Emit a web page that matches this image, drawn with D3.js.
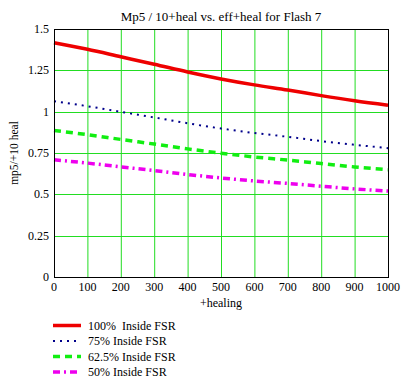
<!DOCTYPE html>
<html>
<head>
<meta charset="utf-8">
<script src="https://cdn.jsdelivr.net/npm/d3@7"></script>
<style>
  body { margin: 0; background: #fff; }
  text { font-family: "Liberation Serif", "Times New Roman", serif; fill: #000; }
</style>
</head>
<body>
<div id="canvas"></div>
<script>
"use strict"

/* Data */
let healing = [0, 100, 200, 300, 400, 500, 600, 700, 800, 900, 1000];
let fsr100 = [1.417, 1.377, 1.332, 1.287, 1.240, 1.198, 1.162, 1.131, 1.097, 1.066, 1.039];
let fsr75 = [1.063, 1.033, 0.999, 0.965, 0.930, 0.898, 0.871, 0.848, 0.822, 0.800, 0.779];
let fsr625 = [0.886, 0.861, 0.832, 0.804, 0.775, 0.749, 0.726, 0.707, 0.686, 0.666, 0.649];
let fsr50 = [0.709, 0.689, 0.666, 0.644, 0.620, 0.599, 0.581, 0.566, 0.549, 0.533, 0.520];
let seriesNames = ["100%  Inside FSR", "75% Inside FSR", "62.5% Inside FSR", "50% Inside FSR"];
let xTicks = [0, 100, 200, 300, 400, 500, 600, 700, 800, 900, 1000];
let yTicks = [0, 0.25, 0.5, 0.75, 1, 1.25, 1.5];

/* Drawing dimensions */
let svgWidth = 409;
let svgHeight = 385;
let plotLeft = 54, plotRight = 388, plotTop = 29, plotBottom = 277;

let svg = d3.select("#canvas")
    .append("svg")
    .attr("width", svgWidth)
    .attr("height", svgHeight);

svg.append("rect")
    .attr("width", svgWidth)
    .attr("height", svgHeight)
    .attr("fill", "white");

let xScale = d3.scaleLinear()
    .domain([0, 1000])
    .range([plotLeft, plotRight]);

let yScale = d3.scaleLinear()
    .domain([0, 1.5])
    .range([plotBottom, plotTop]);

/* Grid lines */
svg.append("g")
    .selectAll("line")
    .data(xTicks)
    .join("line")
    .attr("x1", d => xScale(d) + 0.5)
    .attr("x2", d => xScale(d) + 0.5)
    .attr("y1", plotTop)
    .attr("y2", plotBottom)
    .attr("stroke", "#22dd22")
    .attr("stroke-width", 1);

svg.append("g")
    .selectAll("line")
    .data(yTicks)
    .join("line")
    .attr("x1", plotLeft)
    .attr("x2", plotRight)
    .attr("y1", d => Math.round(yScale(d)) + 0.5)
    .attr("y2", d => Math.round(yScale(d)) + 0.5)
    .attr("stroke", "#22dd22")
    .attr("stroke-width", 1);

/* Series lines */
let seriesData = [fsr100, fsr75, fsr625, fsr50];
let seriesStyle = [
    { color: "#ee0000", width: 3.5, dash: null },
    { color: "#00008b", width: 2, dash: "2 5" },
    { color: "#11ee11", width: 3.5, dash: "7 5" },
    { color: "#ee00ee", width: 3.5, dash: "7 4 2 4" }
];

let line = d3.line()
    .x((d, i) => xScale(healing[i]))
    .y(d => yScale(d))
    .curve(d3.curveMonotoneX);

seriesData.forEach(function (values, k) {
    svg.append("path")
        .datum(values)
        .attr("d", line)
        .attr("fill", "none")
        .attr("stroke", seriesStyle[k].color)
        .attr("stroke-width", seriesStyle[k].width)
        .attr("stroke-dasharray", seriesStyle[k].dash);
});

/* Plot border */
svg.append("rect")
    .attr("x", plotLeft + 0.5)
    .attr("y", plotTop + 0.5)
    .attr("width", plotRight - plotLeft)
    .attr("height", plotBottom - plotTop)
    .attr("fill", "none")
    .attr("stroke", "black")
    .attr("stroke-width", 1);

/* Tick labels */
svg.append("g")
    .selectAll("text")
    .data(xTicks)
    .join("text")
    .attr("x", d => xScale(d))
    .attr("y", plotBottom + 14)
    .attr("text-anchor", "middle")
    .style("font-size", "12px")
    .text(d => d);

svg.append("g")
    .selectAll("text")
    .data(yTicks)
    .join("text")
    .attr("x", plotLeft - 5)
    .attr("y", d => yScale(d) + 4)
    .attr("text-anchor", "end")
    .style("font-size", "12px")
    .text(d => d);

/* Title and axis labels */
svg.append("text")
    .attr("x", (plotLeft + plotRight) / 2)
    .attr("y", 21)
    .attr("text-anchor", "middle")
    .style("font-size", "13px")
    .text("Mp5 / 10+heal vs. eff+heal for Flash 7");

svg.append("text")
    .attr("x", (plotLeft + plotRight) / 2)
    .attr("y", 307)
    .attr("text-anchor", "middle")
    .style("font-size", "12px")
    .text("+healing");

svg.append("text")
    .attr("transform", "translate(18," + 153 + ") rotate(-90)")
    .attr("text-anchor", "middle")
    .style("font-size", "11.5px")
    .text("mp5/+10 heal");

/* Legend */
let legend = svg.append("g");
seriesNames.forEach(function (name, k) {
    let y = 325.5 + k * 15.5;
    legend.append("line")
        .attr("x1", 53)
        .attr("x2", 81)
        .attr("y1", y)
        .attr("y2", y)
        .attr("stroke", seriesStyle[k].color)
        .attr("stroke-width", seriesStyle[k].width)
        .attr("stroke-dasharray", seriesStyle[k].dash);
    legend.append("text")
        .attr("x", 88)
        .attr("y", y + 4)
        .style("font-size", "12px")
        .style("white-space", "pre")
        .text(name);
});
</script>
</body>
</html>
